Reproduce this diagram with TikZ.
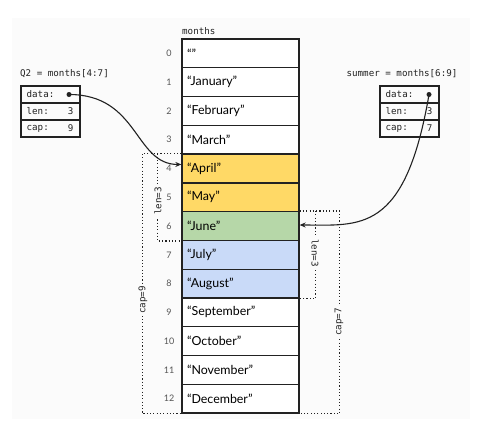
\documentclass[tikz,border=0pt]{standalone}
\usepackage{fontspec}
\setmainfont{Lato}
\setmonofont{DejaVu Sans Mono}
\usetikzlibrary{arrows.meta}
\definecolor{cyel}{HTML}{FFD966}
\definecolor{cgrn}{HTML}{B6D7A8}
\definecolor{cblu}{HTML}{C9DAF8}
\definecolor{bgc}{HTML}{FBFBFB}
\definecolor{ink}{HTML}{222222}
\definecolor{idxc}{HTML}{555555}
\tikzset{
  cell/.style={draw=ink, line width=1.3pt, minimum height=28.77pt, text width=107pt,
    inner xsep=5pt, inner ysep=0pt, align=left, font=\fontsize{12.4}{14}\selectfont},
  idx/.style={text=idxc, font=\fontsize{9}{10}\selectfont, inner sep=0pt},
  mono/.style={font=\ttfamily\fontsize{9.2}{11}\selectfont, text=ink, inner sep=0pt},
  fld/.style={draw=ink, line width=1.1pt, minimum width=59pt, minimum height=17pt, inner sep=0pt},
  dots/.style={ink, line width=1.1pt, dash pattern=on 1.1pt off 2.2pt},
  lbl/.style={mono, fill=bgc, inner xsep=2pt, inner ysep=1pt},
  arr/.style={ink, line width=1.1pt, -{Stealth[length=6pt,width=5pt]}},
}
\begin{document}
\begin{tikzpicture}[x=1pt,y=-1pt]
\useasboundingbox (0,0) rectangle (489,423);
\fill[bgc] (12,18) rectangle (470,419);
% array
\foreach \i/\t/\c in {0/{“”}/white,1/{“January”}/white,2/{“February”}/white,3/{“March”}/white,
  4/{“April”}/cyel,5/{“May”}/cyel,6/{“June”}/cgrn,7/{“July”}/cblu,8/{“August”}/cblu,
  9/{“September”}/white,10/{“October”}/white,11/{“November”}/white,12/{“December”}/white}{
  \node[cell, fill=\c] (m\i) at (240.5, 39+\i*28.77+14.385) {\t};
  \node[idx] (i\i) at (169, 39+\i*28.77+14.385) {\i};
}
\node[mono, anchor=west] (mlab) at (182,31) {months};
% Q2 slice
\node[mono, anchor=west] (q2lab) at (20,74) {Q2 = months[4:7]};
\node[fld] (q2d) at (50.5,94.5) {};
\node[fld] (q2l) at (50.5,111.5) {};
\node[fld] (q2c) at (50.5,128.5) {};
\node[mono, anchor=west] (q2dt) at ([xshift=6pt]q2d.west) {data:};
\node[mono, anchor=west] (q2lt) at ([xshift=6pt]q2l.west) {len:};
\node[mono, anchor=west] (q2ct) at ([xshift=6pt]q2c.west) {cap:};
\node[mono, anchor=east] (q2lv) at ([xshift=-7pt]q2l.east) {3};
\node[mono, anchor=east] (q2cv) at ([xshift=-7pt]q2c.east) {9};
\coordinate (q2dot) at (69,94.5);
% summer slice
\node[mono] (slab) at (402,74) {summer = months[6:9]};
\node[fld] (sd) at (409.5,94.5) {};
\node[fld] (sl) at (409.5,111.5) {};
\node[fld] (sc) at (409.5,128.5) {};
\node[mono, anchor=west] (sdt) at ([xshift=6pt]sd.west) {data:};
\node[mono, anchor=west] (slt) at ([xshift=6pt]sl.west) {len:};
\node[mono, anchor=west] (sct) at ([xshift=6pt]sc.west) {cap:};
\node[mono, anchor=east] (slv) at ([xshift=-7pt]sl.east) {3};
\node[mono, anchor=east] (scv) at ([xshift=-7pt]sc.east) {7};
\coordinate (sdot) at (429,94.5);
% dotted brackets left
\draw[dots] (m4.north west) -- ++(-39,0) |- (m12.south west);
\draw[dots] (m4.north west) ++(-24,0) |- (m6.south west);
\node[lbl, rotate=90] (lcap) at (143,300) {cap=9};
\node[lbl, rotate=90] (llen) at (158,201) {len=3};
% dotted brackets right
\draw[dots] (m6.north east) -- ++(40,0) |- (m12.south east);
\draw[dots] (m6.north east) ++(16,0) |- (m8.south east);
\node[lbl, rotate=-90] (rlen) at (315,253) {len=3};
\node[lbl, rotate=90] (rcap) at (339,322) {cap=7};
% pointers
\draw[arr] (q2dot) .. controls +(70,0) and +(-47,0) .. ([yshift=4pt]m4.west);
\draw[arr] (sdot) .. controls +(-24,140) and +(60,0) .. ([yshift=1pt]m6.east);
\fill[ink] (q2dot) circle (2.5pt);
\fill[ink] (sdot) circle (2.5pt);
\end{tikzpicture}
\end{document}
